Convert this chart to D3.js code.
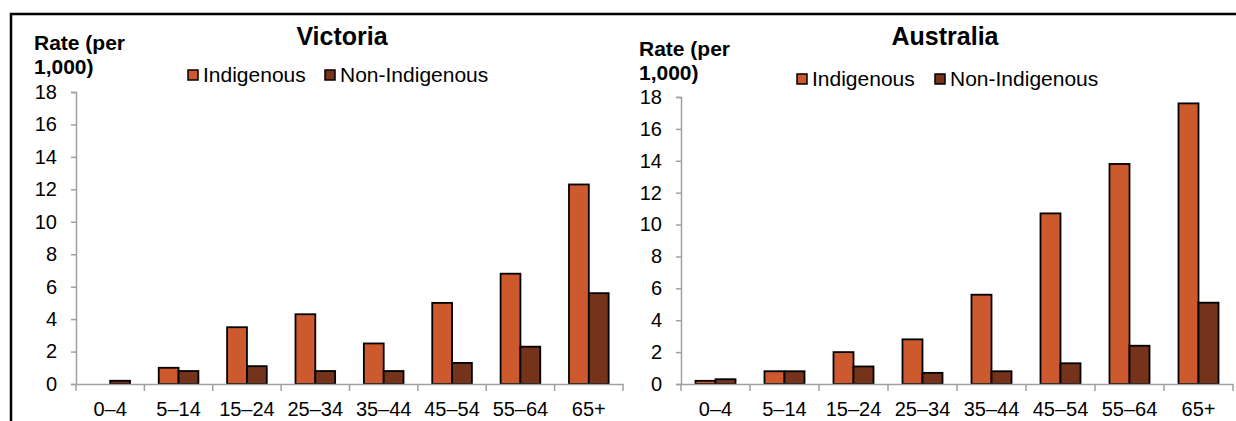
<!DOCTYPE html>
<html>
<head>
<meta charset="utf-8">
<script src="https://cdn.jsdelivr.net/npm/d3@7"></script>
<style>
  body { margin: 0; background: #fff; }
  svg { display: block; font-family: "Liberation Sans", Arial, sans-serif; }
</style>
</head>
<body>
<script>

var ageGroups = ["0–4", "5–14", "15–24", "25–34", "35–44", "45–54", "55–64", "65+"];
var seriesNames = ["Indigenous", "Non-Indigenous"];
var vicIndigenous = [0, 1.0, 3.5, 4.3, 2.5, 5.0, 6.8, 12.3];
var vicNonIndigenous = [0.2, 0.8, 1.1, 0.8, 0.8, 1.3, 2.3, 5.6];
var ausIndigenous = [0.2, 0.8, 2.0, 2.8, 5.6, 10.7, 13.8, 17.6];
var ausNonIndigenous = [0.3, 0.8, 1.1, 0.7, 0.8, 1.3, 2.4, 5.1];
var yTicks = [0, 2, 4, 6, 8, 10, 12, 14, 16, 18];

var colors = { "Indigenous": "#CD5A2E", "Non-Indigenous": "#76331C" };
var axisGrey = "#A0A0A0";

var width = 1236, height = 421;

var svg = d3.select("body")
  .append("svg")
  .attr("width", width)
  .attr("height", height);

// outer frame (only top and left visible in the picture)
svg.append("path")
  .attr("d", "M11,421 V14 H1236")
  .attr("fill", "none")
  .attr("stroke", "#000")
  .attr("stroke-width", 2.5);

function drawPanel(opts) {
  var g = svg.append("g");

  var xScale = d3.scaleBand()
    .domain(ageGroups)
    .range([opts.left, opts.right])
    .padding(0);

  var xInner = d3.scaleBand()
    .domain(seriesNames)
    .range([xScale.bandwidth() * 0.21, xScale.bandwidth() * 0.79])
    .padding(0);

  var yScale = d3.scaleLinear()
    .domain([0, 18])
    .range([opts.bottom, opts.top]);

  var rows = ageGroups.map(function(a, i) {
    return { age: a, values: [
      { name: "Indigenous", value: opts.ind[i] },
      { name: "Non-Indigenous", value: opts.non[i] }
    ]};
  });

  // y axis
  var yAxis = g.append("g")
    .attr("transform", "translate(" + opts.left + ",0)")
    .call(d3.axisLeft(yScale).tickValues(yTicks).tickSize(5).tickSizeOuter(5).tickPadding(14));
  yAxis.selectAll("path, line").attr("stroke", axisGrey).attr("stroke-width", 1.5);
  yAxis.selectAll("text").attr("font-size", 20).attr("fill", "#000")
    .attr("font-family", "Liberation Sans, Arial, sans-serif");

  // bars
  var groups = g.selectAll(".grp")
    .data(rows)
    .enter()
    .append("g")
      .attr("transform", function(d) { return "translate(" + xScale(d.age) + ",0)"; });

  groups.selectAll("rect")
    .data(function(d) { return d.values.filter(function(v) { return v.value > 0; }); })
    .enter()
    .append("rect")
      .attr("x", function(d) { return xInner(d.name); })
      .attr("y", function(d) { return yScale(d.value); })
      .attr("width", xInner.bandwidth())
      .attr("height", function(d) { return yScale(0) - yScale(d.value); })
      .attr("fill", function(d) { return colors[d.name]; })
      .attr("stroke", "#000")
      .attr("stroke-width", 1.8);

  // x axis
  var xAxis = g.append("g")
    .attr("transform", "translate(0," + opts.bottom + ")")
    .call(d3.axisBottom(xScale).tickSize(0).tickSizeOuter(0).tickPadding(18));
  xAxis.select(".domain").attr("stroke", axisGrey).attr("stroke-width", 1.5);
  xAxis.selectAll("text").attr("font-size", 20).attr("fill", "#000")
    .attr("font-family", "Liberation Sans, Arial, sans-serif");

  var bounds = ageGroups.map(function(a) { return xScale(a); }).concat([xScale.range()[1]]);
  xAxis.selectAll(".bound")
    .data(bounds)
    .enter()
    .append("line")
      .attr("x1", function(d) { return d; })
      .attr("x2", function(d) { return d; })
      .attr("y1", 0)
      .attr("y2", 7)
      .attr("stroke", axisGrey)
      .attr("stroke-width", 1.5);

  // title
  g.append("text")
    .attr("x", opts.titleX)
    .attr("y", 45)
    .attr("text-anchor", "middle")
    .attr("font-size", 25)
    .attr("font-weight", "bold")
    .text(opts.title);

  // y axis title
  var yt = g.append("text")
    .attr("x", opts.labelX)
    .attr("y", opts.labelY)
    .attr("font-size", 21)
    .attr("font-weight", "bold");
  yt.append("tspan").attr("x", opts.labelX).text("Rate (per");
  yt.append("tspan").attr("x", opts.labelX).attr("dy", 24).text("1,000)");

  // legend
  var legend = g.selectAll(".leg")
    .data(seriesNames)
    .enter()
    .append("g")
      .attr("transform", function(d, i) { return "translate(" + opts.legendX[i] + "," + opts.legendY + ")"; });
  legend.append("rect")
    .attr("x", 0)
    .attr("y", -12)
    .attr("width", 10)
    .attr("height", 10)
    .attr("fill", function(d) { return colors[d]; })
    .attr("stroke", "#000")
    .attr("stroke-width", 1.5);
  legend.append("text")
    .attr("x", 15)
    .attr("y", 0)
    .attr("font-size", 21)
    .text(function(d) { return d; });
}

drawPanel({
  title: "Victoria", titleX: 342,
  left: 76, right: 623, top: 92, bottom: 384,
  ind: vicIndigenous, non: vicNonIndigenous,
  labelX: 34, labelY: 50,
  legendX: [188, 325], legendY: 82
});

drawPanel({
  title: "Australia", titleX: 945,
  left: 681, right: 1233, top: 97, bottom: 384,
  ind: ausIndigenous, non: ausNonIndigenous,
  labelX: 639, labelY: 56,
  legendX: [797, 935], legendY: 86
});

</script>
</body>
</html>
